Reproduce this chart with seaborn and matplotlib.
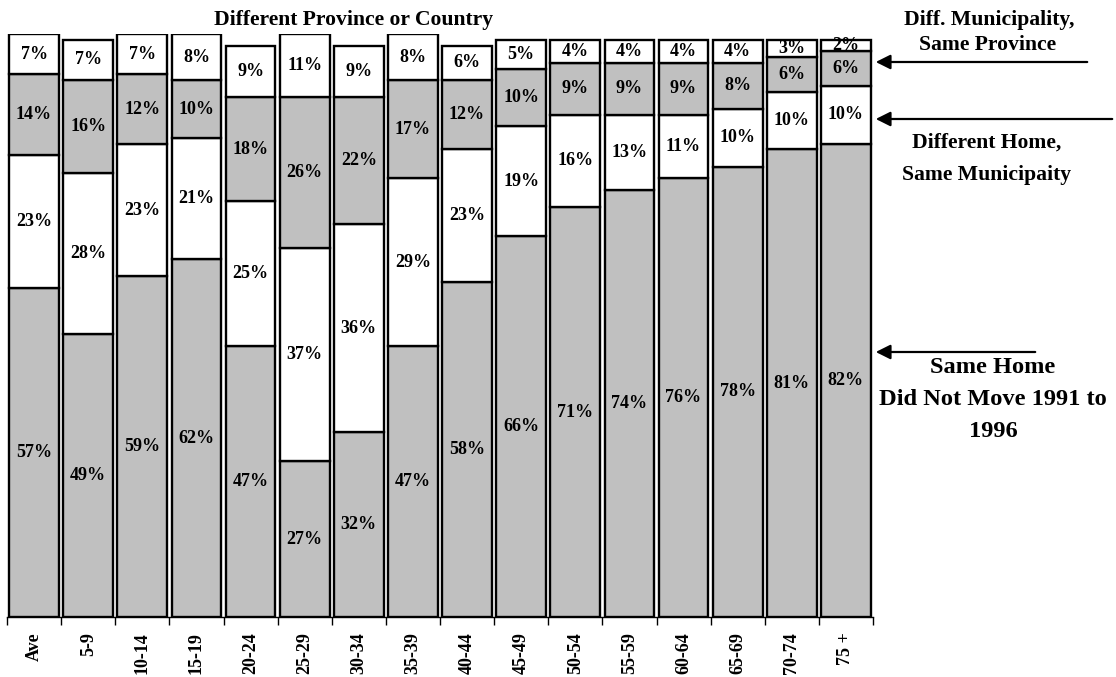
import numpy as np
import matplotlib
matplotlib.use("Agg")
import matplotlib.pyplot as plt
from matplotlib.patches import FancyArrowPatch
import seaborn as sns

# Age groups and mobility status 1991-1996 (percent of each group)
age_groups = ["Ave", "5-9", "10-14", "15-19", "20-24", "25-29", "30-34", "35-39",
              "40-44", "45-49", "50-54", "55-59", "60-64", "65-69", "70-74", "75 +"]
same_home = [57, 49, 59, 62, 47, 27, 32, 47, 58, 66, 71, 74, 76, 78, 81, 82]
diff_home_same_muni = [23, 28, 23, 21, 25, 37, 36, 29, 23, 19, 16, 13, 11, 10, 10, 10]
diff_muni_same_prov = [14, 16, 12, 10, 18, 26, 22, 17, 12, 10, 9, 9, 9, 8, 6, 6]
diff_prov_country = [7, 7, 7, 8, 9, 11, 9, 8, 6, 5, 4, 4, 4, 4, 3, 2]

sns.set_style("white")
plt.rcParams["font.family"] = ["Liberation Serif", "DejaVu Serif"]
plt.rcParams["font.weight"] = "bold"
plt.rcParams["text.color"] = "black"
plt.rcParams["xtick.color"] = "black"
plt.rcParams["xtick.labelcolor"] = "black"

W, H = 1116, 677
fig = plt.figure(figsize=(W / 100, H / 100), dpi=100)

def fx(px):
    return px / W

def fy(py):
    return 1 - py / H

ax = fig.add_axes([fx(7), fy(617), fx(873) - fx(7), fy(34) - fy(617)])

layers = [
    (same_home, "#C0C0C0"),
    (diff_home_same_muni, "#FFFFFF"),
    (diff_muni_same_prov, "#C0C0C0"),
    (diff_prov_country, "#FFFFFF"),
]

bottom = np.zeros(len(age_groups))
for values, colour in layers:
    vals = np.array(values, dtype=float)
    sns.barplot(x=age_groups, y=vals, bottom=bottom, color=colour, saturation=1,
                edgecolor="black", linewidth=1.7, width=0.92, ax=ax)
    for i, v in enumerate(vals):
        ax.text(i, bottom[i] + v / 2, f"{int(v)}%", ha="center", va="center",
                fontsize=13, fontweight="bold", color="black")
    bottom += vals

ax.set_xlim(-0.5, len(age_groups) - 0.5)
ax.set_ylim(0, 101)
ax.set_yticks([])
ax.set_ylabel("")
for side in ("top", "right", "left"):
    ax.spines[side].set_visible(False)
ax.spines["bottom"].set_color("black")
ax.spines["bottom"].set_linewidth(1.0)

ax.set_xticks(np.arange(len(age_groups)))
ax.set_xticklabels(age_groups, rotation=90, fontsize=13, fontweight="bold",
                   va="top", color="black")
ax.set_xticks(np.arange(-0.5, len(age_groups), 1), minor=True)
ax.tick_params(axis="x", which="major", length=0, pad=11)
ax.tick_params(axis="x", which="minor", length=6, width=1, color="black",
               direction="out", bottom=True)

# Series annotations (one text per line, placed on its baseline)
def label_line(x, y, s, size):
    fig.text(fx(x), fy(y), s, ha="center", va="baseline", fontsize=size,
             fontweight="bold", color="black")

label_line(354, 25, "Different Province or Country", 15.6)
label_line(989, 25, "Diff. Municipality,", 15.6)
label_line(988, 50, "Same Province", 15.6)
label_line(987, 148, "Different Home,", 15.6)
label_line(987, 180, "Same Municipaity", 15.6)
label_line(993, 373, "Same Home", 17.6)
label_line(993, 405, "Did Not Move 1991 to", 17.6)
label_line(993, 437, "1996", 17.6)

for x0, y0 in [(1090, 62), (1115, 119), (1038, 352)]:
    arrow = FancyArrowPatch((fx(x0), fy(y0)), (fx(873), fy(y0)),
                            transform=fig.transFigure, arrowstyle="-|>",
                            mutation_scale=22, linewidth=1.6, color="black")
    fig.add_artist(arrow)

fig.savefig("out.png", dpi=100)
